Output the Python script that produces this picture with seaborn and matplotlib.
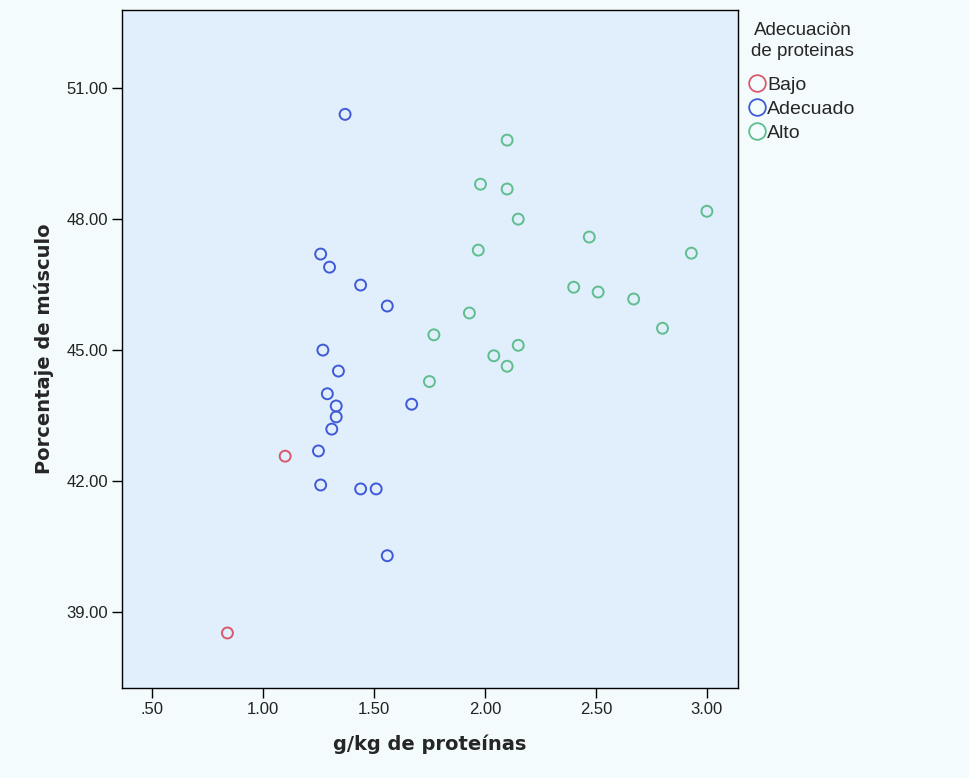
import pandas as pd
import matplotlib.pyplot as plt
import seaborn as sns
from matplotlib.lines import Line2D
from matplotlib.ticker import FuncFormatter

# Datos
bajo_x = [0.84, 1.10]
bajo_y = [38.52, 42.57]

adecuado_x = [1.37, 1.26, 1.30, 1.44, 1.56, 1.27, 1.34, 1.29, 1.33, 1.33,
              1.31, 1.67, 1.25, 1.26, 1.44, 1.51, 1.56]
adecuado_y = [50.40, 47.20, 46.90, 46.49, 46.01, 45.00, 44.52, 44.00, 43.72, 43.47,
              43.19, 43.76, 42.69, 41.91, 41.82, 41.82, 40.29]

alto_x = [2.10, 1.98, 2.10, 2.15, 3.00, 2.47, 1.97, 2.93, 2.40, 2.51,
          2.67, 1.93, 2.80, 1.77, 2.15, 2.04, 2.10, 1.75]
alto_y = [49.81, 48.80, 48.69, 48.00, 48.18, 47.59, 47.29, 47.22, 46.44, 46.33,
          46.17, 45.85, 45.50, 45.35, 45.11, 44.87, 44.63, 44.28]

categorias = ["Bajo", "Adecuado", "Alto"]
colores = {"Bajo": "#D8596B", "Adecuado": "#3F5AD8", "Alto": "#5EBE8E"}

xticks = [0.5, 1.0, 1.5, 2.0, 2.5, 3.0]
yticks = [39, 42, 45, 48, 51]

df = pd.DataFrame({
    "x": bajo_x + adecuado_x + alto_x,
    "y": bajo_y + adecuado_y + alto_y,
    "grupo": ["Bajo"] * len(bajo_x) + ["Adecuado"] * len(adecuado_x) + ["Alto"] * len(alto_x),
})

sns.set_style("white")
plt.rcParams['font.family'] = ['Liberation Sans', 'DejaVu Sans']

fig = plt.figure(figsize=(9.69, 7.78), dpi=100, facecolor="#F4FBFD")
ax = fig.add_axes([0.1259, 0.1157, 0.6357, 0.8714])
ax.set_facecolor("#E1EEFB")

sns.scatterplot(data=df, x="x", y="y", hue="grupo", hue_order=categorias,
                palette=colores, s=62, linewidth=1.4, legend=False, ax=ax)
pts = ax.collections[0]
pts.set_edgecolors(pts.get_facecolors())
pts.set_facecolor("none")

ax.set_xlim(0.365, 3.14)
ax.set_ylim(37.26, 52.79)
ax.set_xticks(xticks)
ax.set_yticks(yticks)
ax.xaxis.set_major_formatter(FuncFormatter(lambda v, p: f"{v:.2f}".lstrip("0")))
ax.yaxis.set_major_formatter(FuncFormatter(lambda v, p: f"{v:.2f}"))
ax.tick_params(axis="both", direction="out", length=7, width=1, color="black",
               labelsize=12, labelcolor="#222222", bottom=True, left=True, pad=3)
for sp in ax.spines.values():
    sp.set_color("black")
    sp.set_linewidth(1)

ax.set_xlabel("g/kg de proteínas", fontsize=14, fontweight="bold",
              family="DejaVu Sans", labelpad=13)
ax.set_ylabel("Porcentaje de músculo", fontsize=14, fontweight="bold",
              family="DejaVu Sans", labelpad=9)

# Leyenda con círculos huecos
handles = [Line2D([], [], marker="o", linestyle="none", markersize=12,
                  markerfacecolor="none", markeredgecolor=colores[c],
                  markeredgewidth=1.3, label=c) for c in categorias]
leg = ax.legend(handles=handles, title="Adecuaciòn\nde proteinas",
                loc="upper left", bbox_to_anchor=(1.0, 1.0), frameon=False,
                fontsize=14, title_fontsize=13.5, handlelength=0.8,
                handletextpad=0.1, labelspacing=0.33, borderaxespad=0.2)
leg.get_title().set_multialignment("center")
leg.get_title().set_linespacing(1.3)
leg._legend_box.sep = 12

plt.savefig("out.png", dpi=100, facecolor=fig.get_facecolor())
